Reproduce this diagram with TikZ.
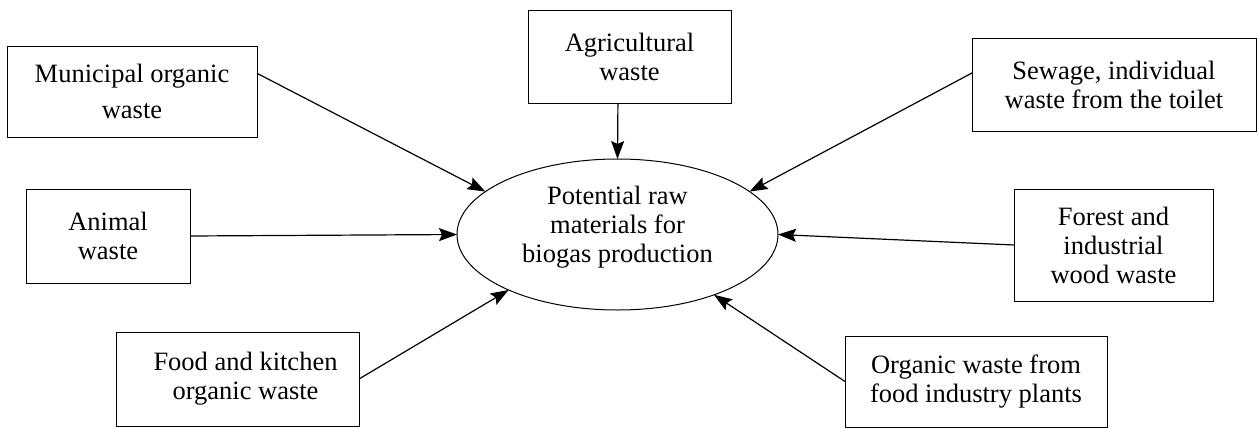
\documentclass[tikz,border=0pt]{standalone}
\usepackage{fontspec}
\setmainfont{Liberation Serif}
\usetikzlibrary{arrows.meta,calc,shapes.geometric}
\begin{document}
\begin{tikzpicture}[x=0.5pt,y=-0.5pt,
  box/.style={draw, line width=0.5pt, rectangle, inner sep=0pt, outer sep=0pt,
    align=center, font=\fontsize{13.25}{14.5}\selectfont},
  hub/.style={draw, line width=0.5pt, ellipse, inner sep=0pt, outer sep=0pt,
    minimum width=160.5pt, minimum height=75.5pt},
  lbl/.style={align=center, inner sep=0pt, font=\fontsize{13.25}{14.5}\selectfont},
  arr/.style={line width=0.6pt, -{Stealth[length=9pt,width=6.5pt,inset=1.5pt]}}]
\useasboundingbox (0,0) rectangle (1258,428);

\node[hub] (c) at (617.5,234.5) {};
\node[lbl] (ct) at (617.5,227) {Potential raw\\materials for\\biogas production};

\node[box, minimum width=125pt, minimum height=45.5pt,
  font=\fontsize{13.25}{18}\selectfont] (m) at (132,91.5) {Municipal organic\\waste};
\node[box, minimum width=101.5pt, minimum height=46.5pt] (a) at (629.5,56.5) {Agricultural\\waste};
\node[box, minimum width=142pt, minimum height=46.5pt] (s) at (1114,84.5) {Sewage, individual\\waste from the toilet};
\node[box, minimum width=82pt, minimum height=47pt] (an) at (108,236) {Animal\\waste};
\node[box, minimum width=99.5pt, minimum height=56pt] (f) at (1113.5,245) {Forest and\\industrial\\wood waste};
\node[box, minimum width=121.5pt, minimum height=47pt] (k) at (237.5,379) {\hspace*{8pt}Food and kitchen\\\hspace*{8pt}organic waste};
\node[box, minimum width=131pt, minimum height=45.5pt] (o) at (976,381.5) {Organic waste from\\food industry plants};

\draw[arr] ($(m.north east)!0.3!(m.south east)$) -- (c.162.5);
\draw[arr] ($(a.south west)!0.443!(a.south east)$) -- (c.north);
\draw[arr] ($(s.north west)!0.376!(s.south west)$) -- (c.18.8);
\draw[arr] (an.east) -- (c.west);
\draw[arr] (f.west) -- (c.east);
\draw[arr] (k.east) -- (c.207.3);
\draw[arr] (o.west) -- (c.328.6);
\end{tikzpicture}
\end{document}
